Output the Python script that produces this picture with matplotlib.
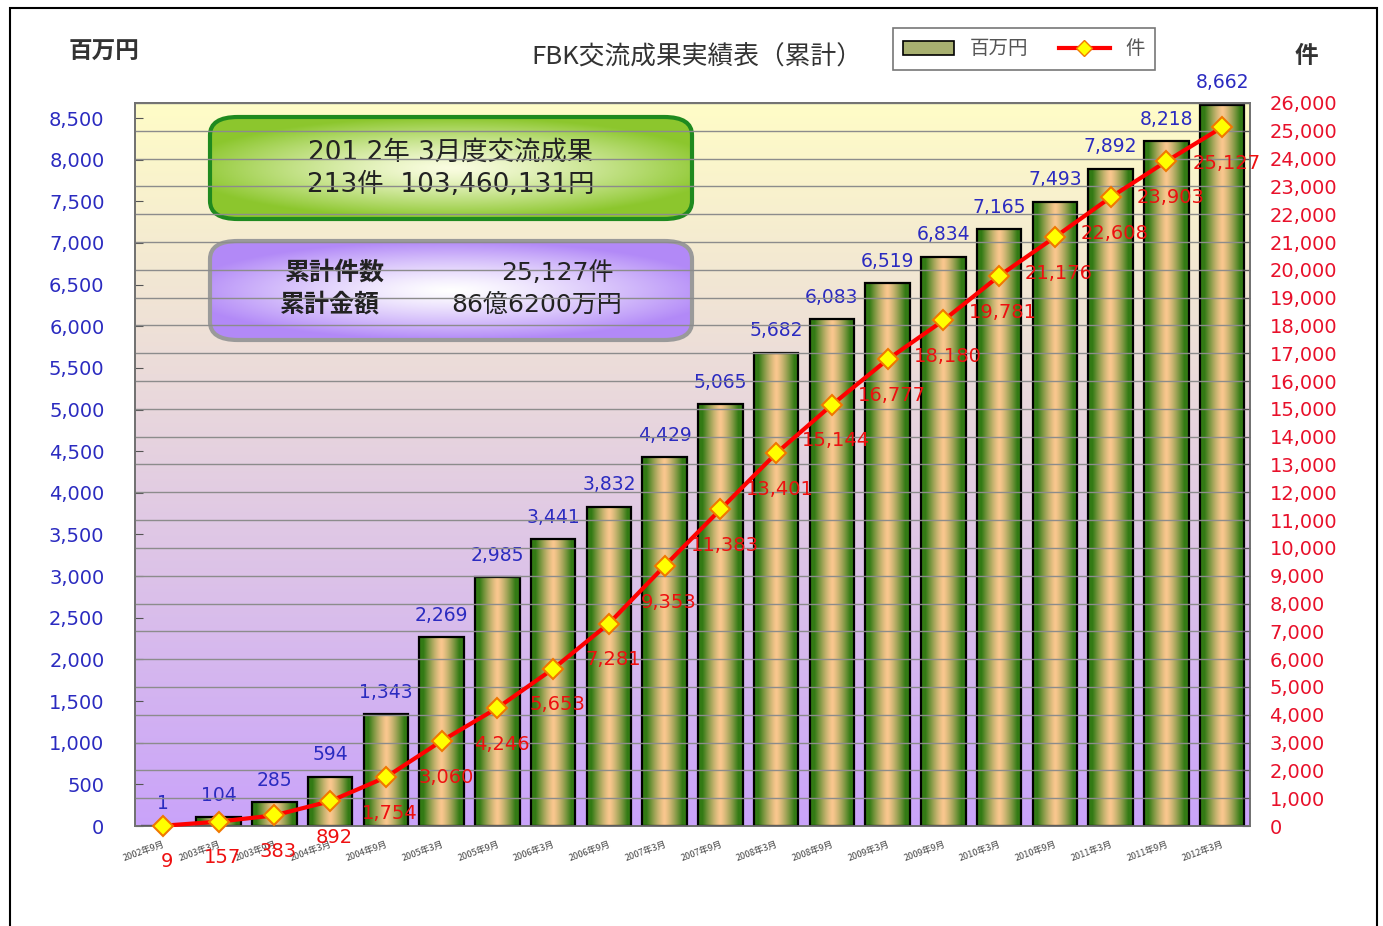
import numpy as np
import matplotlib
matplotlib.use("Agg")
import matplotlib.pyplot as plt
from matplotlib.patches import FancyBboxPatch, Rectangle, Patch
from matplotlib.lines import Line2D

plt.rcParams['font.family'] = ['Noto Sans CJK JP', 'DejaVu Sans']

periods = ["2002年9月", "2003年3月", "2003年9月", "2004年3月", "2004年9月",
           "2005年3月", "2005年9月", "2006年3月", "2006年9月", "2007年3月",
           "2007年9月", "2008年3月", "2008年9月", "2009年3月", "2009年9月",
           "2010年3月", "2010年9月", "2011年3月", "2011年9月", "2012年3月"]
amount_million_yen = [1, 104, 285, 594, 1343, 2269, 2985, 3441, 3832, 4429,
                      5065, 5682, 6083, 6519, 6834, 7165, 7493, 7892, 8218, 8662]
cases = [9, 157, 383, 892, 1754, 3060, 4246, 5653, 7281, 9353,
         11383, 13401, 15144, 16777, 18180, 19781, 21176, 22608, 23903, 25127]
left_ticks = list(range(0, 8501, 500))
right_ticks = list(range(0, 26001, 1000))

W, H = 1383, 926
fig = plt.figure(figsize=(W / 100, H / 100), dpi=100)
fig.patch.set_facecolor('white')

# outer frame
fig.patches.append(Rectangle((10 / W, -0.02), (1377 - 10) / W, (926 - 8) / H + 0.02,
                             transform=fig.transFigure, fill=False,
                             edgecolor='black', linewidth=1.5))

ax = fig.add_axes([135 / W, (926 - 826) / H, (1250 - 135) / W, (826 - 103) / H])
ax2 = ax.twinx()

n = len(periods)
x = np.arange(n)
ax.set_xlim(-0.5, n - 0.5)
ax.set_ylim(0, 8500 * 723 / 708)
ax2.set_ylim(0, 26000)

# background gradient
grad = np.linspace(0, 1, 256)[:, None]
c_bot = np.array([0.79, 0.64, 0.98])
c_top = np.array([1.0, 0.99, 0.78])
bg = c_bot[None, None, :] * (1 - grad[..., None]) + c_top[None, None, :] * grad[..., None]
bg = np.repeat(bg, 2, axis=1)
ax.imshow(bg, extent=[-0.5, n - 0.5, 0, ax.get_ylim()[1]], origin='lower',
          aspect='auto', zorder=0)
ax.set_facecolor('none')

# grid lines (right axis major ticks)
for t in right_ticks[1:]:
    ax2.axhline(t, color='#8c8c8c', linewidth=1.0, zorder=0.5)

# bars with horizontal gradient
bars = ax.bar(x, amount_million_yen, width=0.8, facecolor='none',
              edgecolor='black', linewidth=1.6, zorder=3)
t = np.linspace(0, 1, 128)
w = np.clip(np.abs(2 * t - 1) * 1.25, 0, 1) ** 1.3
edge_c = np.array([0.20, 0.48, 0.08])
mid_c = np.array([0.98, 0.78, 0.56])
prof = mid_c[None, :] * (1 - w[:, None]) + edge_c[None, :] * w[:, None]
bar_img = prof[None, :, :]
for b in bars:
    x0, y0 = b.get_x(), b.get_y()
    bw, bh = b.get_width(), b.get_height()
    im = ax.imshow(bar_img, extent=[x0, x0 + bw, y0, y0 + bh], aspect='auto',
                   zorder=2.5, origin='lower')
    im.set_clip_path(b)

for xi, v in zip(x, amount_million_yen):
    ax.annotate(f"{v:,}", (xi, v), xytext=(0, 9), textcoords='offset points',
                ha='center', va='bottom', color='#2b2bc0', fontsize=13.5,
                family=['DejaVu Sans'], zorder=5)

# line
ax2.plot(x, cases, color='#ff0000', linewidth=3, marker='D', markersize=10,
         markerfacecolor='#ffff00', markeredgecolor='#f07800', markeredgewidth=1.5,
         zorder=6, clip_on=False)
for xi, v in zip(x, cases):
    ax2.annotate(f"{v:,}", (xi, v), xytext=(3, -26), textcoords='offset points',
                 ha='center', va='center', color='#ee1010', fontsize=14,
                 family=['DejaVu Sans'], zorder=7, annotation_clip=False)

# axes styling
ax.set_yticks(left_ticks)
ax.set_yticklabels([f"{v:,}" for v in left_ticks], color='#2b2bc0', fontsize=14,
                   family=['DejaVu Sans'])
ax2.set_yticks(right_ticks)
ax2.set_yticklabels([f"{v:,}" for v in right_ticks], color='#e8102a', fontsize=14,
                    family=['DejaVu Sans'])
ax.tick_params(axis='y', direction='in', length=6, color='#555555', pad=22)
ax2.tick_params(axis='y', direction='in', length=6, color='#555555', pad=14)
ax.set_xticks(x)
ax.set_xticklabels(periods, rotation=20, ha='right', rotation_mode='anchor',
                   fontsize=6.5, color='#444444')
ax.tick_params(axis='x', length=0, pad=10)
for a in (ax, ax2):
    for s in a.spines.values():
        s.set_color('#707070')
        s.set_linewidth(1.2)

# info boxes (axes fraction coords)
def grad_box(x0, y0, bw, bh, edge_rgb, center_rgb, border, lw):
    box = FancyBboxPatch((x0, y0), bw, bh, boxstyle="round,pad=0,rounding_size=0.025",
                         transform=ax.transAxes, facecolor='none',
                         edgecolor=border, linewidth=lw, zorder=9)
    ax.add_patch(box)
    yy, xx = np.mgrid[-1:1:120j, -1:1:240j]
    r = np.clip(np.sqrt((xx * 0.9) ** 2 + (yy * 1.0) ** 2), 0, 1) ** 1.3
    img = center_rgb[None, None, :] * (1 - r[..., None]) + edge_rgb[None, None, :] * r[..., None]
    im = ax.imshow(img, extent=[x0, x0 + bw, y0, y0 + bh], transform=ax.transAxes,
                   aspect='auto', zorder=8.5)
    im.set_clip_path(box)

def fx(px):
    return (px - 135) / (1250 - 135)

def fy(py):
    return (826 - py) / (826 - 103)

grad_box(fx(210), fy(219), fx(692) - fx(210), fy(117) - fy(219),
         np.array([0.55, 0.78, 0.18]), np.array([0.98, 0.99, 0.88]), '#1f8a1f', 3)
grad_box(fx(210), fy(340), fx(692) - fx(210), fy(241) - fy(340),
         np.array([0.70, 0.54, 0.97]), np.array([1.0, 1.0, 1.0]), '#9a9a9a', 3)

box_font = ['DejaVu Sans', 'Noto Sans CJK JP']
ax.text(fx(451), fy(153), "201 2年 3月度交流成果", transform=ax.transAxes,
        ha='center', va='center', fontsize=19, color='#222222', zorder=10, family=box_font)
ax.text(fx(451), fy(185), "213件  103,460,131円", transform=ax.transAxes,
        ha='center', va='center', fontsize=19, color='#222222', zorder=10, family=box_font)
ax.text(fx(335), fy(273), "累計件数", transform=ax.transAxes,
        ha='center', va='center', fontsize=18, color='#222222', zorder=10, weight='bold')
ax.text(fx(614), fy(273), "25,127件", transform=ax.transAxes,
        ha='right', va='center', fontsize=18, color='#222222', zorder=10, family=box_font)
ax.text(fx(330), fy(305), "累計金額", transform=ax.transAxes,
        ha='center', va='center', fontsize=18, color='#222222', zorder=10, weight='bold')
ax.text(fx(622), fy(305), "86億6200万円", transform=ax.transAxes,
        ha='right', va='center', fontsize=18, color='#222222', zorder=10, family=box_font)

# titles
fig.text(697 / W, 1 - 58 / H, "FBK交流成果実績表（累計）", ha='center', va='center',
         fontsize=18.5, color='#333333')
fig.text(104 / W, 1 - 52 / H, "百万円", ha='center', va='center', fontsize=17,
         weight='bold', color='#333333')
fig.text(1306 / W, 1 - 56 / H, "件", ha='center', va='center', fontsize=17,
         weight='bold', color='#333333')

# legend
handles = [Patch(facecolor='#a8b070', edgecolor='black', linewidth=1.2),
           Line2D([0], [0], color='#ff0000', linewidth=3, marker='D', markersize=8,
                  markerfacecolor='#ffff00', markeredgecolor='#f07800')]
leg = fig.legend(handles, ["百万円", "件"], loc='center', ncol=2,
                 bbox_to_anchor=(1024 / W, 1 - 49 / H), frameon=True, fancybox=False,
                 edgecolor='#555555', fontsize=14, handlelength=2.6, handleheight=0.7,
                 columnspacing=1.6, borderpad=0.55, labelcolor='#555555')
leg.get_frame().set_linewidth(1.2)

fig.savefig("out.png", dpi=100)
